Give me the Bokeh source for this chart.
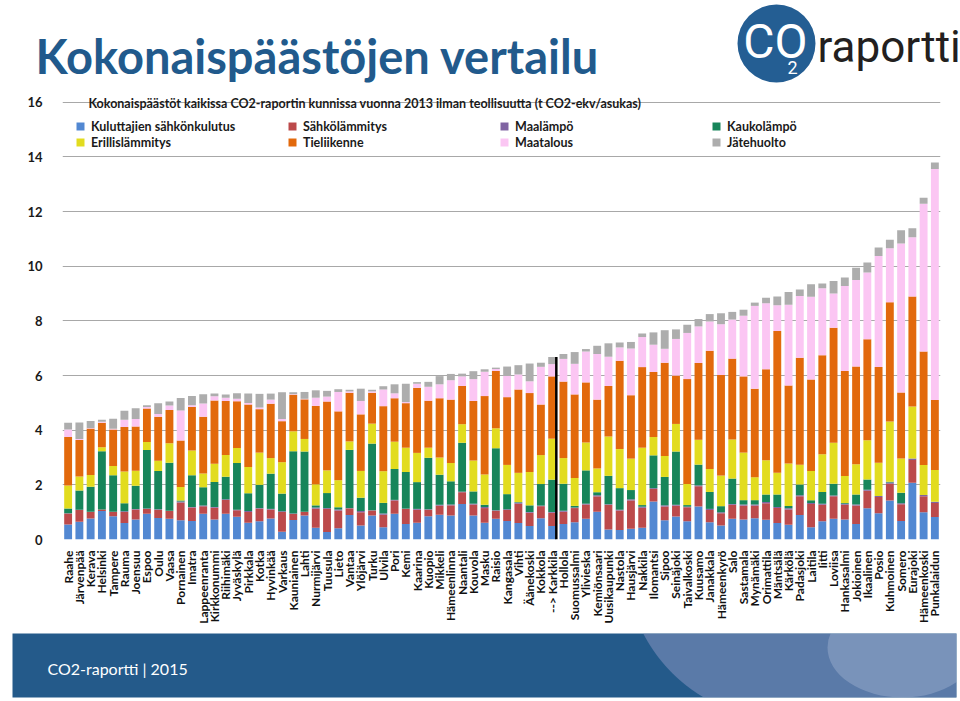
import math
from bokeh.plotting import figure
from bokeh.models import (ColumnDataSource, FactorRange, Range1d, FixedTicker,
                          Legend, LegendItem, Label)
from bokeh.transform import dodge
from bokeh.core.properties import value
from bokeh.embed import file_html
from bokeh.resources import INLINE

municipalities = [
    "Raahe", "Järvenpää", "Kerava", "Helsinki", "Tampere", "Rauma", "Joensuu", "Espoo", "Oulu", "Vaasa",
    "Pornainen", "Imatra", "Lappeenranta", "Kirkkonummi", "Riihimäki", "Jyväskylä", "Pirkkala", "Kotka", "Hyvinkää", "Varkaus",
    "Kauniainen", "Lahti", "Nurmijärvi", "Tuusula", "Lieto", "Vantaa", "Ylöjärvi", "Turku", "Ulvila", "Pori",
    "Kemi", "Kaarina", "Kuopio", "Mikkeli", "Hämeenlinna", "Naantali", "Kouvola", "Masku", "Raisio", "Kangasala",
    "Vihti", "Äänekoski", "Kokkola", "--> Karkkila", "Hollola", "Suomussalmi", "Ylivieska", "Kemiönsaari", "Uusikaupunki", "Nastola",
    "Hausjärvi", "Nakkila", "Ilomantsi", "Sipoo", "Seinäjoki", "Taivalkoski", "Kuusamo", "Janakkala", "Hämeenkyrö", "Salo",
    "Sastamala", "Mynämäki", "Orimattila", "Mäntsälä", "Kärkölä", "Padasjoki", "Laitila", "Iitti", "Loviisa", "Hankasalmi",
    "Jokioinen", "Ikaalinen", "Posio", "Kuhmoinen", "Somero", "Eurajoki", "Hämeenkoski", "Punkalaidun",
]

kuluttajien_sahkonkulutus = [
    0.55, 0.65, 0.77, 1.04, 0.85, 0.60, 0.73, 0.94, 0.79, 0.76,
    0.70, 0.68, 0.94, 0.73, 0.94, 0.83, 0.61, 0.67, 0.77, 0.28,
    0.71, 0.88, 0.43, 0.27, 0.41, 0.90, 0.51, 0.88, 0.45, 0.94,
    0.57, 0.61, 0.85, 0.91, 0.88, 1.30, 0.88, 0.61, 0.76, 0.68,
    0.60, 0.49, 0.78, 0.49, 0.57, 0.63, 0.76, 1.02, 0.37, 0.35,
    0.39, 0.43, 1.39, 0.70, 0.84, 0.67, 1.21, 0.63, 0.51, 0.76,
    0.73, 0.78, 0.72, 0.60, 0.54, 0.90, 0.45, 0.67, 0.76, 0.73,
    0.57, 1.14, 0.96, 1.43, 0.68, 2.08, 1.00, 0.82,
]
sahkolammitys = [
    0.40, 0.43, 0.24, 0.06, 0.16, 0.41, 0.37, 0.18, 0.30, 0.28,
    0.65, 0.49, 0.28, 0.43, 0.51, 0.24, 0.40, 0.46, 0.33, 0.73,
    0.22, 0.13, 0.70, 0.85, 0.65, 0.24, 0.49, 0.18, 0.46, 0.49,
    0.55, 0.48, 0.24, 0.33, 0.37, 0.43, 0.40, 0.54, 0.29, 0.40,
    0.71, 0.49, 0.44, 0.49, 0.45, 0.52, 0.52, 0.56, 0.90, 0.71,
    1.04, 0.73, 0.46, 0.51, 0.40, 0.51, 0.74, 0.45, 0.45, 0.51,
    0.51, 0.46, 0.61, 0.55, 0.56, 0.68, 0.85, 0.60, 0.82, 0.54,
    0.67, 0.64, 0.60, 0.61, 0.61, 0.83, 0.58, 0.52,
]
maalampo = [
    0.01, 0.01, 0.01, 0.00, 0.01, 0.02, 0.02, 0.01, 0.02, 0.01,
    0.04, 0.02, 0.02, 0.03, 0.02, 0.02, 0.03, 0.02, 0.02, 0.02,
    0.02, 0.01, 0.04, 0.03, 0.04, 0.01, 0.04, 0.01, 0.04, 0.02,
    0.01, 0.03, 0.02, 0.03, 0.03, 0.02, 0.03, 0.04, 0.02, 0.03,
    0.04, 0.03, 0.02, 0.03, 0.03, 0.02, 0.03, 0.04, 0.02, 0.03,
    0.04, 0.04, 0.03, 0.04, 0.03, 0.02, 0.03, 0.04, 0.04, 0.03,
    0.04, 0.04, 0.04, 0.04, 0.04, 0.04, 0.04, 0.04, 0.03, 0.04,
    0.04, 0.04, 0.03, 0.05, 0.04, 0.05, 0.05, 0.04,
]
kaukolampo = [
    0.17, 0.70, 0.91, 2.13, 1.33, 0.30, 0.85, 2.15, 1.40, 1.76,
    0.04, 1.16, 0.67, 0.91, 0.83, 1.71, 0.65, 0.85, 1.29, 0.65,
    2.28, 2.20, 0.08, 0.55, 0.08, 2.13, 0.49, 2.44, 0.39, 1.13,
    1.34, 0.98, 1.88, 1.10, 0.85, 1.79, 0.45, 0.08, 2.27, 0.55,
    0.02, 0.24, 0.79, 1.18, 0.99, 0.06, 1.22, 0.11, 1.04, 0.79,
    0.34, 0.06, 1.20, 1.04, 1.95, 0.06, 0.76, 0.62, 0.22, 0.93,
    0.16, 0.16, 0.28, 0.46, 0.09, 0.39, 0.10, 0.43, 0.43, 0.03,
    0.37, 0.38, 0.00, 0.02, 0.38, 0.00, 0.00, 0.00,
]
erillislammitys = [
    0.85, 0.52, 0.43, 0.15, 0.34, 1.16, 0.55, 0.29, 0.37, 0.71,
    0.49, 0.91, 0.51, 0.67, 0.79, 0.55, 0.96, 1.18, 0.57, 1.15,
    0.73, 0.46, 0.77, 0.83, 0.99, 0.31, 0.98, 0.73, 1.16, 1.00,
    0.89, 1.07, 0.37, 0.63, 0.67, 0.68, 1.13, 1.11, 0.73, 1.07,
    1.07, 1.22, 1.06, 1.50, 0.94, 1.02, 1.02, 0.87, 1.44, 1.43,
    1.15, 2.10, 0.67, 0.77, 1.01, 0.77, 0.91, 0.84, 1.12, 1.43,
    1.74, 0.84, 1.25, 0.79, 1.55, 0.73, 1.07, 1.38, 1.50, 0.98,
    1.10, 1.43, 1.22, 2.21, 1.25, 1.91, 1.10, 1.16,
]
tieliikenne = [
    1.77, 1.33, 1.70, 0.89, 1.34, 1.63, 1.62, 1.22, 1.61, 1.22,
    1.70, 1.59, 2.07, 2.32, 1.98, 1.71, 2.29, 1.59, 1.99, 1.50,
    1.34, 1.45, 2.87, 2.52, 2.52, 1.78, 2.07, 1.13, 2.38, 1.59,
    1.63, 2.38, 1.72, 2.17, 2.32, 1.40, 2.18, 2.87, 2.10, 2.48,
    3.05, 2.89, 1.85, 2.28, 2.80, 3.06, 2.20, 2.52, 1.85, 3.23,
    2.32, 2.95, 2.38, 3.41, 1.77, 3.84, 2.81, 4.33, 3.68, 2.96,
    2.79, 3.24, 3.33, 5.19, 2.86, 3.91, 3.35, 3.62, 4.21, 3.85,
    3.58, 3.70, 3.50, 4.36, 2.42, 4.02, 4.15, 2.57,
]
maatalous = [
    0.28, 0.04, 0.02, 0.04, 0.02, 0.26, 0.27, 0.06, 0.10, 0.16,
    1.10, 0.06, 0.49, 0.15, 0.12, 0.09, 0.06, 0.06, 0.15, 0.08,
    0.02, 0.02, 0.30, 0.18, 0.71, 0.05, 0.49, 0.05, 0.61, 0.18,
    0.04, 0.15, 0.51, 0.51, 0.71, 0.35, 0.80, 0.89, 0.07, 0.78,
    0.55, 0.43, 1.38, 0.45, 0.83, 1.12, 1.13, 1.67, 1.07, 0.49,
    1.71, 1.10, 1.00, 0.51, 1.34, 1.69, 1.34, 1.07, 1.86, 1.43,
    2.22, 3.03, 2.42, 0.94, 2.95, 2.26, 3.02, 2.46, 1.25, 3.11,
    3.17, 2.44, 4.07, 1.98, 5.45, 2.17, 5.41, 8.45,
]
jatehuolto = [
    0.24, 0.60, 0.26, 0.07, 0.37, 0.33, 0.39, 0.06, 0.40, 0.15,
    0.46, 0.34, 0.34, 0.10, 0.12, 0.20, 0.34, 0.50, 0.22, 0.98,
    0.07, 0.25, 0.27, 0.21, 0.10, 0.06, 0.45, 0.06, 0.12, 0.33,
    0.67, 0.06, 0.18, 0.30, 0.23, 0.10, 0.29, 0.09, 0.05, 0.34,
    0.34, 0.65, 0.15, 0.26, 0.18, 0.43, 0.09, 0.30, 0.49, 0.18,
    0.24, 0.13, 0.45, 0.68, 0.35, 0.30, 0.27, 0.27, 0.40, 0.28,
    0.22, 0.12, 0.20, 0.32, 0.47, 0.24, 0.46, 0.17, 0.46, 0.31,
    0.45, 0.37, 0.31, 0.31, 0.49, 0.33, 0.22, 0.24,
]

series_labels = ["Kuluttajien sähkönkulutus", "Sähkölämmitys", "Maalämpö", "Kaukolämpö",
                 "Erillislämmitys", "Tieliikenne", "Maatalous", "Jätehuolto"]
series_colors = ["#5288D2", "#BC4A4B", "#8064A2", "#17855A",
                 "#E2DC1F", "#E2690C", "#FBC6F3", "#ADADAD"]
y_ticks = [0, 2, 4, 6, 8, 10, 12, 14, 16]
highlight = "--> Karkkila"

page_title = "Kokonaispäästöjen vertailu"
chart_title = "Kokonaispäästöt kaikissa CO2-raportin kunnissa vuonna 2013 ilman teollisuutta (t CO2-ekv/asukas)"
footer_text = "CO2-raportti | 2015"

FONT = "Lato"
keys = ["s%d" % i for i in range(8)]
series_values = [kuluttajien_sahkonkulutus, sahkolammitys, maalampo, kaukolampo,
                 erillislammitys, tieliikenne, maatalous, jatehuolto]
data = {"name": municipalities}
for k, v in zip(keys, series_values):
    data[k] = v
src = ColumnDataSource(data)

# ---------------- header (page y 0..95) ----------------
header = figure(width=960, height=95, x_range=Range1d(0, 960), y_range=Range1d(0, 95),
                x_axis_location=None, y_axis_location=None, toolbar_location=None,
                output_backend="svg", min_border=0, outline_line_color=None)
header.grid.visible = False
header.text(x=[35], y=[40], text=[page_title], text_font=value(FONT), text_font_style="bold",
            text_font_size="47px", text_color="#215A8C", text_baseline="middle")
header.circle(x=[776], y=[52], radius=39, fill_color="#245E93", line_color=None)
header.text(x=[775], y=[54], text=["CO"], text_align="center", text_baseline="middle",
            text_color="white", text_font=value("Roboto"), text_font_size="48px")
header.text(x=[792], y=[28], text=["2"], text_align="center", text_baseline="middle",
            text_color="white", text_font=value("Roboto"), text_font_size="18px")
header.text(x=[817], y=[49], text=["raportti"], text_align="left", text_baseline="middle",
            text_color="#231F20", text_font=value("Roboto"), text_font_size="44px")

# ---------------- chart (page y 95..633) ----------------
chart = figure(width=960, height=538, x_range=FactorRange(factors=municipalities),
               y_range=Range1d(0, 16.25), toolbar_location=None, output_backend="svg",
               min_border_left=62, min_border_right=20, min_border_top=0, min_border_bottom=94,
               outline_line_color=None)
renderers = chart.vbar_stack(keys, x="name", width=0.7, source=src,
                             fill_color=series_colors, line_color=None)

hl = [i for i, n in enumerate(municipalities) if n == highlight]
hl_src = ColumnDataSource({
    "name": [municipalities[i] for i in hl],
    "total": [sum(s[i] for s in series_values) for i in hl],
    "zero": [0 for _ in hl],
})
chart.segment(x0=dodge("name", 0.37, range=chart.x_range), y0="zero",
              x1=dodge("name", 0.37, range=chart.x_range), y1="total",
              source=hl_src, line_color="black", line_width=2.5)

chart.xgrid.visible = False
chart.ygrid.grid_line_color = "#A8A8A8"
chart.ygrid.grid_line_width = 1
chart.yaxis.ticker = FixedTicker(ticks=y_ticks)
chart.yaxis.axis_line_color = None
chart.yaxis.major_tick_line_color = None
chart.yaxis.minor_tick_line_color = None
chart.yaxis.major_label_standoff = 14
chart.yaxis.major_label_text_font = FONT
chart.yaxis.major_label_text_font_style = "bold"
chart.yaxis.major_label_text_font_size = "13px"
chart.yaxis.major_label_text_color = "#1a1a1a"

chart.xaxis.axis_line_color = None
chart.xaxis.major_tick_line_color = None
chart.xaxis.minor_tick_line_color = None
chart.xaxis.major_label_orientation = math.pi / 2
chart.xaxis.major_label_standoff = 5
chart.xaxis.major_label_text_font = FONT
chart.xaxis.major_label_text_font_style = "bold"
chart.xaxis.major_label_text_font_size = "12px"
chart.xaxis.major_label_text_color = "#111111"

chart.add_layout(Label(x=26, y=436, x_units="screen", y_units="screen", text=chart_title,
                       text_font=FONT, text_font_style="bold", text_font_size="12.5px",
                       text_color="#1a1a1a", text_baseline="middle"))

for row, bottom in ((0, 405), (1, 389)):
    items = [LegendItem(label=series_labels[i], renderers=[renderers[i]]) for i in range(row * 4, row * 4 + 4)]
    leg = Legend(items=items, orientation="horizontal", location=(13, bottom),
                 glyph_width=10, glyph_height=10, label_width=193, label_height=16,
                 label_standoff=6, spacing=3, padding=0, margin=0,
                 border_line_color=None, background_fill_alpha=0,
                 label_text_font=FONT, label_text_font_style="bold",
                 label_text_font_size="12.5px", label_text_color="#1a1a1a")
    chart.add_layout(leg)

# ---------------- footer (page y 633..701) ----------------
footer = figure(width=960, height=68, x_range=Range1d(0, 944), y_range=Range1d(0, 64),
                x_axis_location=None, y_axis_location=None, toolbar_location=None,
                output_backend="svg", min_border_left=12, min_border_right=4,
                min_border_top=0, min_border_bottom=4, outline_line_color=None,
                background_fill_color="#245A8A", border_fill_color="white")
footer.grid.visible = False
arc_cx, arc_cy, arc_r = 772, 137, 159
arc_ys = [64 - 4 * k for k in range(17)]
arc_xs = [arc_cx - math.sqrt(arc_r ** 2 - (arc_cy - yy) ** 2) for yy in arc_ys]
footer.patch(x=arc_xs + [944, 944], y=arc_ys + [0, 64], fill_color="#7F90BC",
             fill_alpha=0.6, line_color=None)
footer.ellipse(x=[890], y=[50], width=150, height=100, fill_color="#C5CCE4",
               fill_alpha=0.3, line_color=None)
footer.text(x=[35], y=[29], text=[footer_text], text_baseline="middle", text_color="white",
            text_font=value(FONT), text_font_size="16px")

open("out.html", "w").write(file_html([header, chart, footer], INLINE))
